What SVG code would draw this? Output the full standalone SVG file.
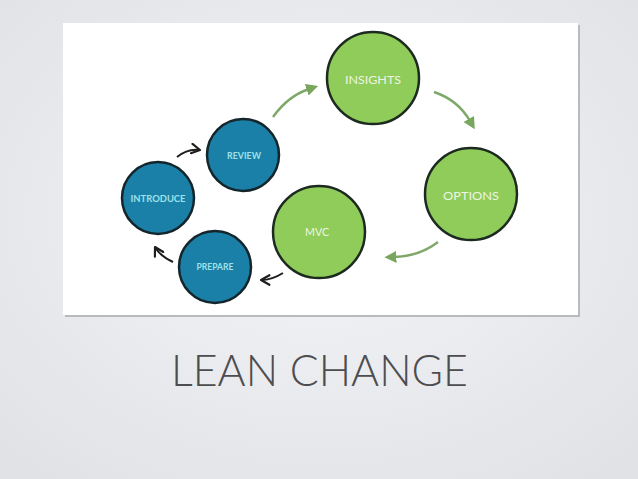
<svg xmlns="http://www.w3.org/2000/svg" width="638" height="479" viewBox="0 0 638 479">
<defs>
<radialGradient id="bg" cx="50%" cy="45%" r="70%">
<stop offset="0" stop-color="#f4f5f7"/>
<stop offset="1" stop-color="#e1e2e6"/>
</radialGradient>
<marker id="gh" viewBox="0 0 10 10" refX="2" refY="5" markerWidth="5" markerHeight="5" orient="auto" markerUnits="strokeWidth">
<path d="M0,0 L10,5 L0,10 Z" fill="#78a65c"/>
</marker>
<marker id="bh" viewBox="0 0 10 10" refX="8" refY="5" markerWidth="6" markerHeight="6" orient="auto" markerUnits="strokeWidth">
<path d="M1,1 L8,5 L1,9" fill="none" stroke="#1e1e1e" stroke-width="1.8" stroke-linecap="round" stroke-linejoin="round"/>
</marker>
</defs>
<style>
.big{fill:#8fcc5a;stroke:#1d2a1f;stroke-width:2.5}
.small{fill:#1a80a7;stroke:#14262b;stroke-width:2.5}
.gt{font-family:Lato,"Open Sans",sans-serif;font-size:11px;fill:#eef5e4;text-anchor:middle;dominant-baseline:central}
.bt{font-family:Lato,"Open Sans",sans-serif;font-weight:bold;font-size:8.5px;fill:#9fe0ea;text-anchor:middle;dominant-baseline:central}
.ga{fill:none;stroke:#7fa868;stroke-width:2.4;marker-end:url(#gh)}
.ba{fill:none;stroke:#1e1e1e;stroke-width:2;marker-end:url(#bh)}
</style>
<rect width="638" height="479" fill="url(#bg)"/>
<rect x="65" y="25" width="515" height="292" fill="#b9babd"/>
<rect x="63" y="23" width="515" height="292" fill="#ffffff"/>
<g id="connectors">
<path class="ga" d="M273,117 Q288,96 309,89"/>
<path class="ga" d="M434,92 Q458,100 470,121"/>
<path class="ga" d="M438,242 Q420,256 394,257"/>
<path class="ba" d="M283,273 Q272,280 261,280"/>
<path class="ba" d="M173,262 Q160,256 155,247"/>
<path class="ba" d="M177,157 Q188,148 200,150"/>
</g>
<g id="insights"><circle class="big" cx="373" cy="78" r="46"/><text class="gt" x="373" y="79" textLength="56" lengthAdjust="spacingAndGlyphs">INSIGHTS</text></g>
<g id="options"><circle class="big" cx="471" cy="194" r="46"/><text class="gt" x="471" y="195" textLength="56" lengthAdjust="spacingAndGlyphs">OPTIONS</text></g>
<g id="mvc"><circle class="big" cx="319" cy="232" r="46"/><text class="gt" x="317" y="231" textLength="24" lengthAdjust="spacingAndGlyphs">MVC</text></g>
<g id="review"><circle class="small" cx="243" cy="155" r="36"/><text class="bt" x="244" y="156" textLength="34" lengthAdjust="spacingAndGlyphs">REVIEW</text></g>
<g id="introduce"><circle class="small" cx="158" cy="198" r="36"/><text class="bt" x="158" y="199" textLength="55" lengthAdjust="spacingAndGlyphs">INTRODUCE</text></g>
<g id="prepare"><circle class="small" cx="215" cy="267" r="36"/><text class="bt" x="215" y="267" textLength="37" lengthAdjust="spacingAndGlyphs">PREPARE</text></g>
<text x="171" y="386" font-family="Lato,'Open Sans',sans-serif" font-weight="300" font-size="43" fill="#4d4d4f" textLength="297" lengthAdjust="spacingAndGlyphs">LEAN CHANGE</text>
</svg>
